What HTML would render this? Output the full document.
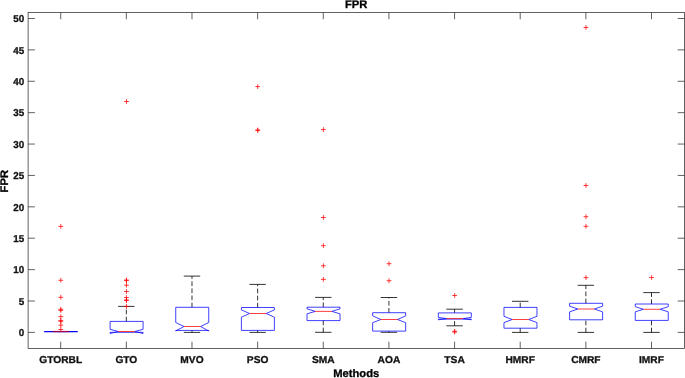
<!DOCTYPE html>
<html><head><meta charset="utf-8"><title>FPR</title>
<style>html,body{margin:0;padding:0;background:#fff;}body{width:685px;height:378px;overflow:hidden;position:relative;font-family:"Liberation Sans",sans-serif;}</style>
</head><body>
<svg width="685" height="378" viewBox="0 0 685 378" style="position:absolute;left:0;top:0;will-change:transform;text-rendering:geometricPrecision">
<g stroke="#262626" stroke-width="0.72" fill="none">
<rect x="28.1" y="12.5" width="656.4" height="336.0"/>
<path d="M60.70 348.5v-6.8M60.70 12.5v6.8"/>
<path d="M126.34 348.5v-6.8M126.34 12.5v6.8"/>
<path d="M191.99 348.5v-6.8M191.99 12.5v6.8"/>
<path d="M257.63 348.5v-6.8M257.63 12.5v6.8"/>
<path d="M323.28 348.5v-6.8M323.28 12.5v6.8"/>
<path d="M388.92 348.5v-6.8M388.92 12.5v6.8"/>
<path d="M454.57 348.5v-6.8M454.57 12.5v6.8"/>
<path d="M520.21 348.5v-6.8M520.21 12.5v6.8"/>
<path d="M585.86 348.5v-6.8M585.86 12.5v6.8"/>
<path d="M651.50 348.5v-6.8M651.50 12.5v6.8"/>
<path d="M28.1 332.40h6.8M684.5 332.40h-6.8"/>
<path d="M28.1 301.01h6.8M684.5 301.01h-6.8"/>
<path d="M28.1 269.62h6.8M684.5 269.62h-6.8"/>
<path d="M28.1 238.23h6.8M684.5 238.23h-6.8"/>
<path d="M28.1 206.84h6.8M684.5 206.84h-6.8"/>
<path d="M28.1 175.45h6.8M684.5 175.45h-6.8"/>
<path d="M28.1 144.06h6.8M684.5 144.06h-6.8"/>
<path d="M28.1 112.67h6.8M684.5 112.67h-6.8"/>
<path d="M28.1 81.28h6.8M684.5 81.28h-6.8"/>
<path d="M28.1 49.89h6.8M684.5 49.89h-6.8"/>
<path d="M28.1 18.50h6.8M684.5 18.50h-6.8"/>
</g>
<path d="M44.15 331.55H77.75" stroke="#0000ff" stroke-width="1.25" fill="none"/>
<path d="M52.65 331.55H69.25" stroke="#a00048" stroke-width="1.25" fill="none"/>
<path d="M58.40 226.4h4.8M60.80 224.0v4.8" stroke="#ff0000" stroke-width="0.75" fill="none"/>
<path d="M58.40 280.3h4.8M60.80 277.90000000000003v4.8" stroke="#ff0000" stroke-width="0.75" fill="none"/>
<path d="M58.40 297.3h4.8M60.80 294.90000000000003v4.8" stroke="#ff0000" stroke-width="0.75" fill="none"/>
<path d="M58.40 309.3h4.8M60.80 306.90000000000003v4.8" stroke="#ff0000" stroke-width="0.75" fill="none"/>
<path d="M58.40 310.4h4.8M60.80 308.0v4.8" stroke="#ff0000" stroke-width="0.75" fill="none"/>
<path d="M58.40 316.6h4.8M60.80 314.20000000000005v4.8" stroke="#ff0000" stroke-width="0.75" fill="none"/>
<path d="M58.40 320.6h4.8M60.80 318.20000000000005v4.8" stroke="#ff0000" stroke-width="0.75" fill="none"/>
<path d="M58.40 321.3h4.8M60.80 318.90000000000003v4.8" stroke="#ff0000" stroke-width="0.75" fill="none"/>
<path d="M58.40 325.2h4.8M60.80 322.8v4.8" stroke="#ff0000" stroke-width="0.75" fill="none"/>
<path d="M58.40 329.5h4.8M60.80 327.1v4.8" stroke="#ff0000" stroke-width="0.75" fill="none"/>
<path d="M126.34 321.4V306.4" stroke="#000" stroke-width="0.8" stroke-dasharray="4.7 2.4" fill="none"/>
<path d="M118.14 306.4H134.54" stroke="#000" stroke-width="0.8" fill="none"/>
<path d="M110.09 332.3L110.09 333.5L118.29 331.5L110.09 329.3L110.09 321.4L143.09 321.4L143.09 329.3L134.89 331.5L143.09 333.5L143.09 332.3Z" stroke="#0000ff" stroke-width="0.75" fill="none" stroke-linejoin="miter"/>
<path d="M118.29 331.5H134.89" stroke="#ff0000" stroke-width="0.75" fill="none"/>
<path d="M124.04 101.5h4.8M126.44 99.1v4.8" stroke="#ff0000" stroke-width="0.75" fill="none"/>
<path d="M124.04 280.0h4.8M126.44 277.6v4.8" stroke="#ff0000" stroke-width="0.75" fill="none"/>
<path d="M124.04 280.6h4.8M126.44 278.20000000000005v4.8" stroke="#ff0000" stroke-width="0.75" fill="none"/>
<path d="M124.04 285.2h4.8M126.44 282.8v4.8" stroke="#ff0000" stroke-width="0.75" fill="none"/>
<path d="M124.04 291.5h4.8M126.44 289.1v4.8" stroke="#ff0000" stroke-width="0.75" fill="none"/>
<path d="M124.04 297.55h4.8M126.44 295.15000000000003v4.8" stroke="#ff0000" stroke-width="0.75" fill="none"/>
<path d="M124.04 300.0h4.8M126.44 297.6v4.8" stroke="#ff0000" stroke-width="0.75" fill="none"/>
<path d="M124.04 300.5h4.8M126.44 298.1v4.8" stroke="#ff0000" stroke-width="0.75" fill="none"/>
<path d="M124.04 306.4h4.8M126.44 304.0v4.8" stroke="#ff0000" stroke-width="0.75" fill="none"/>
<path d="M191.99 307.3V276.1" stroke="#000" stroke-width="0.8" stroke-dasharray="4.7 2.4" fill="none"/>
<path d="M183.79 276.1H200.19" stroke="#000" stroke-width="0.8" fill="none"/>
<path d="M191.99 332.4V330.4" stroke="#000" stroke-width="0.8" stroke-dasharray="4.7 2.4" fill="none"/>
<path d="M183.79 332.4H200.19" stroke="#000" stroke-width="0.8" fill="none"/>
<path d="M175.74 330.4L175.74 331.0L183.94 326.5L175.74 322.5L175.74 307.3L208.74 307.3L208.74 322.5L200.54 326.5L208.74 331.0L208.74 330.4Z" stroke="#0000ff" stroke-width="0.75" fill="none" stroke-linejoin="miter"/>
<path d="M183.94 326.5H200.54" stroke="#ff0000" stroke-width="0.75" fill="none"/>
<path d="M257.63 307.5V284.4" stroke="#000" stroke-width="0.8" stroke-dasharray="4.7 2.4" fill="none"/>
<path d="M249.43 284.4H265.83" stroke="#000" stroke-width="0.8" fill="none"/>
<path d="M257.63 332.4V330.4" stroke="#000" stroke-width="0.8" stroke-dasharray="4.7 2.4" fill="none"/>
<path d="M249.43 332.4H265.83" stroke="#000" stroke-width="0.8" fill="none"/>
<path d="M241.38 330.4L241.38 317.2L249.58 313.5L241.38 309.9L241.38 307.5L274.38 307.5L274.38 309.9L266.18 313.5L274.38 317.2L274.38 330.4Z" stroke="#0000ff" stroke-width="0.75" fill="none" stroke-linejoin="miter"/>
<path d="M249.58 313.5H266.18" stroke="#ff0000" stroke-width="0.75" fill="none"/>
<path d="M255.33 86.6h4.8M257.73 84.19999999999999v4.8" stroke="#ff0000" stroke-width="0.75" fill="none"/>
<path d="M255.33 130.0h4.8M257.73 127.6v4.8" stroke="#ff0000" stroke-width="0.75" fill="none"/>
<path d="M255.33 130.4h4.8M257.73 128.0v4.8" stroke="#ff0000" stroke-width="0.75" fill="none"/>
<path d="M323.28 307.2V297.4" stroke="#000" stroke-width="0.8" stroke-dasharray="4.7 2.4" fill="none"/>
<path d="M315.08 297.4H331.48" stroke="#000" stroke-width="0.8" fill="none"/>
<path d="M323.28 332.3V320.6" stroke="#000" stroke-width="0.8" stroke-dasharray="4.7 2.4" fill="none"/>
<path d="M315.08 332.3H331.48" stroke="#000" stroke-width="0.8" fill="none"/>
<path d="M307.03 320.6L307.03 313.8L315.23 311.4L307.03 308.8L307.03 307.2L340.03 307.2L340.03 308.8L331.83 311.4L340.03 313.8L340.03 320.6Z" stroke="#0000ff" stroke-width="0.75" fill="none" stroke-linejoin="miter"/>
<path d="M315.23 311.4H331.83" stroke="#ff0000" stroke-width="0.75" fill="none"/>
<path d="M320.98 129.6h4.8M323.38 127.19999999999999v4.8" stroke="#ff0000" stroke-width="0.75" fill="none"/>
<path d="M320.98 217.5h4.8M323.38 215.1v4.8" stroke="#ff0000" stroke-width="0.75" fill="none"/>
<path d="M320.98 245.7h4.8M323.38 243.29999999999998v4.8" stroke="#ff0000" stroke-width="0.75" fill="none"/>
<path d="M320.98 265.8h4.8M323.38 263.40000000000003v4.8" stroke="#ff0000" stroke-width="0.75" fill="none"/>
<path d="M320.98 279.4h4.8M323.38 277.0v4.8" stroke="#ff0000" stroke-width="0.75" fill="none"/>
<path d="M388.92 312.7V297.5" stroke="#000" stroke-width="0.8" stroke-dasharray="4.7 2.4" fill="none"/>
<path d="M380.72 297.5H397.12" stroke="#000" stroke-width="0.8" fill="none"/>
<path d="M388.92 332.3V331.1" stroke="#000" stroke-width="0.8" stroke-dasharray="4.7 2.4" fill="none"/>
<path d="M380.72 332.3H397.12" stroke="#000" stroke-width="0.8" fill="none"/>
<path d="M372.67 331.1L372.67 322.7L380.87 319.5L372.67 315.9L372.67 312.7L405.67 312.7L405.67 315.9L397.47 319.5L405.67 322.7L405.67 331.1Z" stroke="#0000ff" stroke-width="0.75" fill="none" stroke-linejoin="miter"/>
<path d="M380.87 319.5H397.47" stroke="#ff0000" stroke-width="0.75" fill="none"/>
<path d="M386.62 263.7h4.8M389.02 261.3v4.8" stroke="#ff0000" stroke-width="0.75" fill="none"/>
<path d="M386.62 280.7h4.8M389.02 278.3v4.8" stroke="#ff0000" stroke-width="0.75" fill="none"/>
<path d="M454.57 312.9V309.2" stroke="#000" stroke-width="0.8" stroke-dasharray="4.7 2.4" fill="none"/>
<path d="M446.37 309.2H462.77" stroke="#000" stroke-width="0.8" fill="none"/>
<path d="M454.57 325.8V319.1" stroke="#000" stroke-width="0.8" stroke-dasharray="4.7 2.4" fill="none"/>
<path d="M446.37 325.8H462.77" stroke="#000" stroke-width="0.8" fill="none"/>
<path d="M438.32 319.1L438.32 319.8L446.52 318.6L438.32 317.4L438.32 312.9L471.32 312.9L471.32 317.4L463.12 318.6L471.32 319.8L471.32 319.1Z" stroke="#0000ff" stroke-width="0.75" fill="none" stroke-linejoin="miter"/>
<path d="M446.52 318.6H463.12" stroke="#ff0000" stroke-width="0.75" fill="none"/>
<path d="M452.27 295.5h4.8M454.67 293.1v4.8" stroke="#ff0000" stroke-width="0.75" fill="none"/>
<path d="M452.27 331.3h4.8M454.67 328.90000000000003v4.8" stroke="#ff0000" stroke-width="0.75" fill="none"/>
<path d="M452.27 332.0h4.8M454.67 329.6v4.8" stroke="#ff0000" stroke-width="0.75" fill="none"/>
<path d="M520.21 307.4V301.3" stroke="#000" stroke-width="0.8" stroke-dasharray="4.7 2.4" fill="none"/>
<path d="M512.01 301.3H528.41" stroke="#000" stroke-width="0.8" fill="none"/>
<path d="M520.21 332.4V328.2" stroke="#000" stroke-width="0.8" stroke-dasharray="4.7 2.4" fill="none"/>
<path d="M512.01 332.4H528.41" stroke="#000" stroke-width="0.8" fill="none"/>
<path d="M503.96 328.2L503.96 322.6L512.16 319.5L503.96 316.3L503.96 307.4L536.96 307.4L536.96 316.3L528.76 319.5L536.96 322.6L536.96 328.2Z" stroke="#0000ff" stroke-width="0.75" fill="none" stroke-linejoin="miter"/>
<path d="M512.16 319.5H528.76" stroke="#ff0000" stroke-width="0.75" fill="none"/>
<path d="M585.86 303.3V285.3" stroke="#000" stroke-width="0.8" stroke-dasharray="4.7 2.4" fill="none"/>
<path d="M577.66 285.3H594.06" stroke="#000" stroke-width="0.8" fill="none"/>
<path d="M585.86 332.4V319.8" stroke="#000" stroke-width="0.8" stroke-dasharray="4.7 2.4" fill="none"/>
<path d="M577.66 332.4H594.06" stroke="#000" stroke-width="0.8" fill="none"/>
<path d="M569.61 319.8L569.61 311.9L577.81 309.0L569.61 306.2L569.61 303.3L602.61 303.3L602.61 306.2L594.41 309.0L602.61 311.9L602.61 319.8Z" stroke="#0000ff" stroke-width="0.75" fill="none" stroke-linejoin="miter"/>
<path d="M577.81 309.0H594.41" stroke="#ff0000" stroke-width="0.75" fill="none"/>
<path d="M583.56 27.5h4.8M585.96 25.1v4.8" stroke="#ff0000" stroke-width="0.75" fill="none"/>
<path d="M583.56 185.5h4.8M585.96 183.1v4.8" stroke="#ff0000" stroke-width="0.75" fill="none"/>
<path d="M583.56 216.7h4.8M585.96 214.29999999999998v4.8" stroke="#ff0000" stroke-width="0.75" fill="none"/>
<path d="M583.56 226.3h4.8M585.96 223.9v4.8" stroke="#ff0000" stroke-width="0.75" fill="none"/>
<path d="M583.56 277.6h4.8M585.96 275.20000000000005v4.8" stroke="#ff0000" stroke-width="0.75" fill="none"/>
<path d="M651.50 304.0V292.6" stroke="#000" stroke-width="0.8" stroke-dasharray="4.7 2.4" fill="none"/>
<path d="M643.30 292.6H659.70" stroke="#000" stroke-width="0.8" fill="none"/>
<path d="M651.50 332.4V320.4" stroke="#000" stroke-width="0.8" stroke-dasharray="4.7 2.4" fill="none"/>
<path d="M643.30 332.4H659.70" stroke="#000" stroke-width="0.8" fill="none"/>
<path d="M635.25 320.4L635.25 311.8L643.45 309.3L635.25 306.7L635.25 304.0L668.25 304.0L668.25 306.7L660.05 309.3L668.25 311.8L668.25 320.4Z" stroke="#0000ff" stroke-width="0.75" fill="none" stroke-linejoin="miter"/>
<path d="M643.45 309.3H660.05" stroke="#ff0000" stroke-width="0.75" fill="none"/>
<path d="M649.20 277.5h4.8M651.60 275.1v4.8" stroke="#ff0000" stroke-width="0.75" fill="none"/>
<g font-family="Liberation Sans, sans-serif" font-weight="bold" stroke-width="0.3" stroke-linejoin="round">
<text transform="translate(24.20 336.15) scale(0.98 1.0)" font-size="10" text-anchor="end" fill="#111" stroke="#111">0</text>
<text transform="translate(24.20 304.76) scale(0.98 1.0)" font-size="10" text-anchor="end" fill="#111" stroke="#111">5</text>
<text transform="translate(24.20 273.37) scale(0.98 1.0)" font-size="10" text-anchor="end" fill="#111" stroke="#111">10</text>
<text transform="translate(24.20 241.98) scale(0.98 1.0)" font-size="10" text-anchor="end" fill="#111" stroke="#111">15</text>
<text transform="translate(24.20 210.59) scale(0.98 1.0)" font-size="10" text-anchor="end" fill="#111" stroke="#111">20</text>
<text transform="translate(24.20 179.20) scale(0.98 1.0)" font-size="10" text-anchor="end" fill="#111" stroke="#111">25</text>
<text transform="translate(24.20 147.81) scale(0.98 1.0)" font-size="10" text-anchor="end" fill="#111" stroke="#111">30</text>
<text transform="translate(24.20 116.42) scale(0.98 1.0)" font-size="10" text-anchor="end" fill="#111" stroke="#111">35</text>
<text transform="translate(24.20 85.03) scale(0.98 1.0)" font-size="10" text-anchor="end" fill="#111" stroke="#111">40</text>
<text transform="translate(24.20 53.64) scale(0.98 1.0)" font-size="10" text-anchor="end" fill="#111" stroke="#111">45</text>
<text transform="translate(24.20 22.25) scale(0.98 1.0)" font-size="10" text-anchor="end" fill="#111" stroke="#111">50</text>
<text transform="translate(60.70 362.60) scale(1.02 1.0)" font-size="10" text-anchor="middle" fill="#111" stroke="#111">GTORBL</text>
<text transform="translate(126.34 362.60) scale(1.02 1.0)" font-size="10" text-anchor="middle" fill="#111" stroke="#111">GTO</text>
<text transform="translate(191.99 362.60) scale(1.02 1.0)" font-size="10" text-anchor="middle" fill="#111" stroke="#111">MVO</text>
<text transform="translate(257.63 362.60) scale(1.02 1.0)" font-size="10" text-anchor="middle" fill="#111" stroke="#111">PSO</text>
<text transform="translate(323.28 362.60) scale(1.02 1.0)" font-size="10" text-anchor="middle" fill="#111" stroke="#111">SMA</text>
<text transform="translate(388.92 362.60) scale(1.02 1.0)" font-size="10" text-anchor="middle" fill="#111" stroke="#111">AOA</text>
<text transform="translate(454.57 362.60) scale(1.02 1.0)" font-size="10" text-anchor="middle" fill="#111" stroke="#111">TSA</text>
<text transform="translate(520.21 362.60) scale(1.02 1.0)" font-size="10" text-anchor="middle" fill="#111" stroke="#111">HMRF</text>
<text transform="translate(585.86 362.60) scale(1.02 1.0)" font-size="10" text-anchor="middle" fill="#111" stroke="#111">CMRF</text>
<text transform="translate(651.50 362.60) scale(1.02 1.0)" font-size="10" text-anchor="middle" fill="#111" stroke="#111">IMRF</text>
<text transform="translate(356.20 377.40) scale(1.02 1.0)" font-size="11" text-anchor="middle" fill="#000" stroke="#000">Methods</text>
<text transform="translate(356.20 7.60) scale(1.02 1.0)" font-size="11" text-anchor="middle" fill="#000" stroke="#000">FPR</text>
<text transform="translate(8.40 181.20) rotate(-90) scale(1.02 1.0)" font-size="11" text-anchor="middle" fill="#000" stroke="#000">FPR</text>
</g>
</svg>
</body></html>
